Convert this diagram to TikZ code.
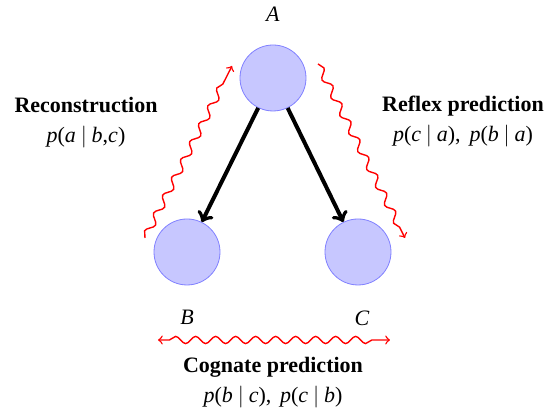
\documentclass[tikz,border=0pt]{standalone}
\usepackage{amsmath}
\usepackage{fontspec}
\setmainfont{Liberation Serif}
\usetikzlibrary{positioning,calc,decorations.pathmorphing}

\newcommand{\vv}[1]{\textit{#1}}
\newcommand{\given}{\hspace{0.22em}$|$\hspace{0.22em}}

\begin{document}
\begin{tikzpicture}[every node/.style={font=\fontsize{11}{15}\selectfont},
    latent/.style={circle, draw=blue!50, fill=blue!22, minimum size=33pt, inner sep=0pt},
    task/.style={align=center},
    wavy/.style={red, line width=0.7pt, decorate, decoration={snake, amplitude=1.8pt, segment length=10pt, post length=2mm}}]
  \useasboundingbox (0,0) rectangle (274pt,205pt);

  \node[latent] (a) at (136.5pt,166pt) {};
  \node[latent] (b) at (93.5pt,79pt) {};
  \node[latent] (c) at (179pt,79pt) {};

  \node[above=8pt of a] (la) {\vv{A}};
  \node[below=9pt of b] (lb) {\vv{B}};
  \node[below=9pt of c, xshift=2pt] (lc) {\vv{C}};

  \draw[->, line width=2pt] (a) -- (b);
  \draw[->, line width=2pt] (a) -- (c);

  % task labels
  \node[task] (rec) at (43pt,143.5pt) {\textbf{Reconstruction}\\ \vv{p}(\vv{a}\given\vv{b},\vv{c})};
  \node[task] (ref) at (231.5pt,144pt) {\textbf{Reflex prediction}\\ \vv{p}(\vv{c}\given\vv{a}),\hspace{0.4em}\vv{p}(\vv{b}\given\vv{a})};
  \node[task] (cog) at (136.5pt,13.5pt) {\textbf{Cognate prediction}\\ \vv{p}(\vv{b}\given\vv{c}),\hspace{0.4em}\vv{p}(\vv{c}\given\vv{b})};

  \coordinate (recs) at ($(b)+(-21pt,7pt)$);
  \coordinate (rece) at ($(a)+(-20.5pt,6pt)$);
  \coordinate (refs) at ($(a)+(22.5pt,7pt)$);
  \coordinate (refe) at ($(c)+(23.5pt,7pt)$);
  \coordinate (cogs) at ($(b)+(-14.5pt,-44pt)$);
  \coordinate (coge) at ($(c)+(16pt,-44pt)$);

  \draw[wavy, ->] (recs) -- (rece);
  \draw[wavy, ->] (refs) -- (refe);
  \draw[wavy, <->, decoration={pre length=2mm}] (cogs) -- (coge);
\end{tikzpicture}
\end{document}
